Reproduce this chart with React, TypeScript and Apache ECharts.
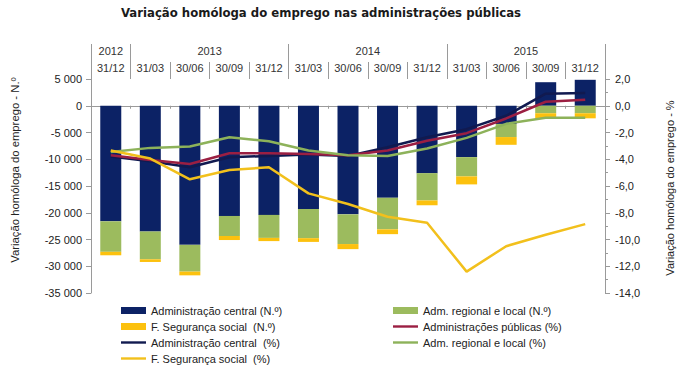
import React, { useEffect, useRef } from "react";
import * as echarts from "echarts";

const dateLabels = ["31/12", "31/03", "30/06", "30/09", "31/12", "31/03", "30/06", "30/09", "31/12", "31/03", "30/06", "30/09", "31/12"];
const yearLabels = ["2012", "2013", "2014", "2015"];
const yearSpans = [1, 4, 4, 4];

const centralN = [-21600, -23500, -26000, -20600, -20400, -19300, -20300, -17200, -12600, -9600, -3400, 4400, 4850];
const regionalN = [-5700, -5200, -5000, -3750, -4300, -5450, -5550, -5900, -5100, -3600, -2450, -1400, -1400];
const segurancaN = [-650, -500, -700, -750, -600, -700, -950, -900, -900, -1500, -1450, -1050, -950];

const publicasPct = [-3.7, -4.05, -4.35, -3.55, -3.55, -3.6, -3.7, -3.35, -2.62, -2.05, -0.95, 0.3, 0.45];
const centralPct = [-3.8, -4.15, -4.6, -3.85, -3.75, -3.65, -3.75, -3.1, -2.35, -1.75, -0.75, 0.9, 0.95];
const regionalPct = [-3.45, -3.15, -3.05, -2.35, -2.65, -3.35, -3.7, -3.75, -3.2, -2.4, -1.35, -0.9, -0.9];
const segurancaPct = [-3.35, -3.95, -5.5, -4.8, -4.6, -6.55, -7.35, -8.3, -8.75, -12.4, -10.5, -9.65, -8.85];

const C_NAVY = "#0c2265";
const C_GREEN = "#9cbb5e";
const C_YELLOW = "#fcc10e";
const L_NAVY = "#111a50";
const L_RED = "#9b1f42";
const L_GREEN = "#8db25a";
const L_YELLOW = "#f2c01c";

const FONT = "'Liberation Sans', Arial, sans-serif";
const LINE_ICON = "path://M0,0 M0,2.3 L25,2.3 L25,4.7 L0,4.7 Z M25,7";

// year label positions (centre of each span) and separators (span starts)
const yearCenters: number[] = [];
const yearStarts: number[] = [];
{
  let acc = 0;
  yearSpans.forEach((s) => {
    yearStarts.push(acc);
    yearCenters.push(acc + s / 2);
    acc += s;
  });
}

function fmtN(v: number) {
  if (v === 0) return "0";
  const s = Math.abs(v).toString().replace(/\B(?=(\d{3})+(?!\d))/g, " ");
  return (v < 0 ? "-" : "") + s;
}

export default function App() {
  const ref = useRef<HTMLDivElement>(null);
  useEffect(() => {
    if (!ref.current) return;
    const chart = echarts.init(ref.current, null, { renderer: "svg" });
    const axisGray = "#9a9a9a";
    const option: any = {
      animation: false,
      backgroundColor: "#ffffff",
      title: {
        text: "Variação homóloga do emprego nas administrações públicas",
        left: 121,
        top: 6,
        padding: 0,
        textStyle: {
          fontFamily: "'DejaVu Sans Condensed', 'DejaVu Sans', sans-serif",
          fontWeight: "bold",
          fontSize: 13,
          color: "#1a1a1a",
        },
      },
      grid: { left: 91, right: 75, top: 79, bottom: 80, containLabel: false },
      legend: [
        {
          orient: "vertical",
          left: 116,
          top: 300,
          itemWidth: 25,
          itemHeight: 7,
          itemGap: 5,
          itemStyle: { borderWidth: 0 },
          textStyle: { fontFamily: FONT, fontSize: 11, color: "#222" },
          data: [
            { name: "Administração central (N.º)", icon: "rect" },
            { name: "F. Segurança social  (N.º)", icon: "rect" },
            { name: "Administração central  (%)", icon: LINE_ICON },
            { name: "F. Segurança social  (%)", icon: LINE_ICON },
          ],
        },
        {
          orient: "vertical",
          left: 388,
          top: 300,
          itemWidth: 25,
          itemHeight: 7,
          itemGap: 5,
          itemStyle: { borderWidth: 0 },
          textStyle: { fontFamily: FONT, fontSize: 11, color: "#222" },
          data: [
            { name: "Adm. regional e local (N.º)", icon: "rect" },
            { name: "Administrações públicas (%)", icon: LINE_ICON },
            { name: "Adm. regional e local (%)", icon: LINE_ICON },
          ],
        },
      ],
      xAxis: [
        {
          type: "category",
          data: dateLabels,
          position: "bottom",
          axisLine: { onZero: true, onZeroAxisIndex: 0, lineStyle: { color: axisGray } },
          axisTick: { show: true, length: 3, lineStyle: { color: axisGray } },
          axisLabel: { show: false },
          splitLine: { show: false },
        },
        {
          type: "category",
          data: dateLabels,
          position: "top",
          axisLine: { show: false, onZero: false },
          axisTick: { show: true, length: 17, lineStyle: { color: axisGray } },
          axisLabel: { show: true, margin: 6, fontFamily: FONT, fontSize: 11, color: "#333" },
          splitLine: { show: false },
        },
        {
          type: "category",
          data: dateLabels.map((_, i) => "y" + i),
          position: "top",
          axisLine: { show: false, onZero: false },
          axisTick: {
            show: true,
            length: 35,
            interval: (i: number) => yearStarts.indexOf(i) >= 0,
            lineStyle: { color: axisGray },
          },
          axisLabel: { show: false },
          splitLine: { show: false },
        },
        {
          type: "value",
          position: "top",
          min: 0,
          max: dateLabels.length,
          interval: 0.5,
          axisLine: { show: false, onZero: false },
          axisTick: { show: false },
          splitLine: { show: false },
          axisLabel: {
            show: true,
            margin: 23,
            fontFamily: FONT,
            fontSize: 11,
            color: "#333",
            formatter: (v: number) => {
              const k = yearCenters.indexOf(v);
              return k >= 0 ? yearLabels[k] : "";
            },
          },
        },
      ],
      yAxis: [
        {
          type: "value",
          min: -35000,
          max: 5000,
          interval: 5000,
          position: "left",
          axisLine: { show: true, lineStyle: { color: axisGray } },
          axisTick: { show: true, length: 5, lineStyle: { color: axisGray } },
          splitLine: { show: false },
          axisLabel: { fontFamily: FONT, fontSize: 11, color: "#222", margin: 9, formatter: fmtN },
        },
        {
          type: "value",
          min: -14,
          max: 2,
          interval: 2,
          position: "right",
          axisLine: { show: true, lineStyle: { color: axisGray } },
          axisTick: { show: true, length: 5, lineStyle: { color: axisGray } },
          minorTick: { show: true, splitNumber: 2, length: 3, lineStyle: { color: axisGray } },
          splitLine: { show: false },
          axisLabel: {
            fontFamily: FONT,
            fontSize: 11,
            color: "#222",
            margin: 10,
            formatter: (v: number) => v.toFixed(1).replace(".", ","),
          },
        },
      ],
      graphic: [
        {
          type: "text",
          x: 15,
          y: 170,
          rotation: Math.PI / 2,
          style: {
            text: "Variação homóloga do emprego - N.º",
            fontFamily: FONT,
            fontSize: 11.3,
            fill: "#222",
            align: "center",
            verticalAlign: "middle",
          },
        },
        {
          type: "text",
          x: 670,
          y: 188,
          rotation: Math.PI / 2,
          style: {
            text: "Variação homóloga do emprego - %",
            fontFamily: FONT,
            fontSize: 11,
            fill: "#222",
            align: "center",
            verticalAlign: "middle",
          },
        },
      ],
      series: [
        {
          name: "Administração central (N.º)",
          type: "bar",
          stack: "n",
          barWidth: 21,
          data: centralN,
          itemStyle: { color: C_NAVY },
        },
        {
          name: "Adm. regional e local (N.º)",
          type: "bar",
          stack: "n",
          barWidth: 21,
          data: regionalN,
          itemStyle: { color: C_GREEN },
        },
        {
          name: "F. Segurança social  (N.º)",
          type: "bar",
          stack: "n",
          barWidth: 21,
          data: segurancaN,
          itemStyle: { color: C_YELLOW },
        },
        {
          name: "Administração central  (%)",
          type: "line",
          yAxisIndex: 1,
          data: centralPct,
          symbol: "none",
          lineStyle: { color: L_NAVY, width: 2.5 },
          itemStyle: { color: L_NAVY },
        },
        {
          name: "Administrações públicas (%)",
          type: "line",
          yAxisIndex: 1,
          data: publicasPct,
          symbol: "none",
          lineStyle: { color: L_RED, width: 2.5 },
          itemStyle: { color: L_RED },
        },
        {
          name: "Adm. regional e local (%)",
          type: "line",
          yAxisIndex: 1,
          data: regionalPct,
          symbol: "none",
          lineStyle: { color: L_GREEN, width: 2.5 },
          itemStyle: { color: L_GREEN },
        },
        {
          name: "F. Segurança social  (%)",
          type: "line",
          yAxisIndex: 1,
          data: segurancaPct,
          symbol: "none",
          lineStyle: { color: L_YELLOW, width: 2.5 },
          itemStyle: { color: L_YELLOW },
        },
      ],
    };
    chart.setOption(option);
    return () => chart.dispose();
  }, []);
  return (
    <div
      ref={ref}
      style={{ position: "fixed", left: 0, top: 0, width: 680, height: 373, background: "#fff" }}
    />
  );
}
